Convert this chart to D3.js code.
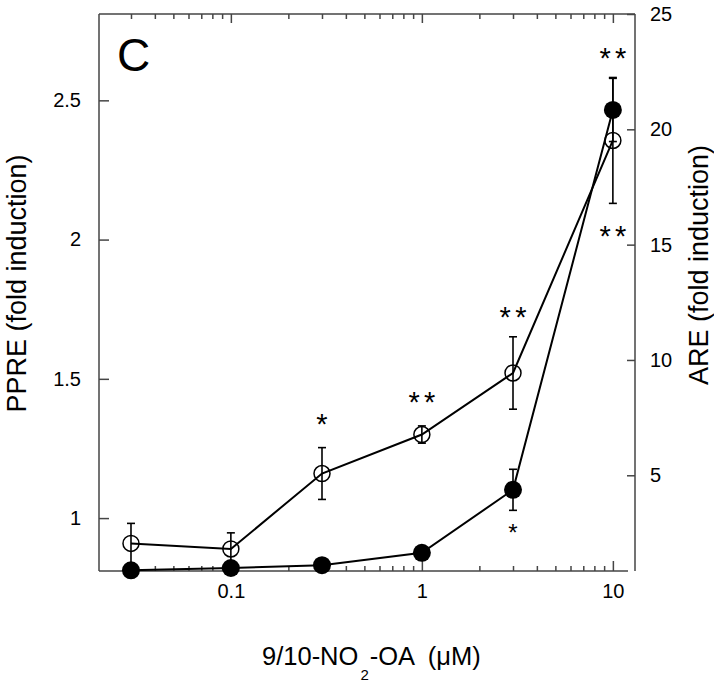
<!DOCTYPE html>
<html><head><meta charset="utf-8">
<script src="https://cdn.jsdelivr.net/npm/d3@7"></script>
<style>
body{margin:0;background:#fff;}
text{font-family:"Liberation Sans",Arial,Helvetica,sans-serif;fill:#000;}
</style></head>
<body>
<svg id="chart" width="714" height="684"></svg>
<script>
// ---- data ----
const concentrations = [0.03, 0.1, 0.3, 1, 3, 10];          // µM
const ppreValues = [0.909, 0.889, 1.160, 1.300, 1.521, 2.356]; // open circles, left axis
const ppreErrors = [0.072, 0.058, 0.093, 0.031, 0.130, 0.226];
const areValues  = [0.88, 0.98, 1.10, 1.64, 4.37, 20.84];      // filled circles, right axis
const areErrors  = [0, 0, 0, 0, 0.89, 1.37];
const leftTicks  = [1, 1.5, 2, 2.5];
const leftTickLabels = ["1", "1.5", "2", "2.5"];
const rightTicks = [5, 10, 15, 20, 25];
const xMajorTicks = [0.1, 1, 10];
const xMajorLabels = ["0.1", "1", "10"];
const xMinorTicks = [0.03,0.04,0.05,0.06,0.07,0.08,0.09,0.2,0.3,0.4,0.5,0.6,0.7,0.8,0.9,2,3,4,5,6,7,8,9];
// significance marks: x (µM), y (left-axis units), number of stars, small?
const starX = [0.3, 1, 3, 10, 10, 3];
const starY = [1.364, 1.440, 1.745, 2.678, 2.039, 0.969];
const starCount = [1, 2, 2, 2, 2, 1];
const starSmall = [false, false, false, false, false, true];

// ---- layout ----
const svg = d3.select("#chart");
const L = 99, R = 635, Rx = 628, T = 14, B = 571;
const axisColor = "#454545";

const x = d3.scaleLog().domain([0.0204, 12]).range([L, Rx]);
const yL = d3.scaleLinear().domain([0.81, 2.81]).range([B, T]);
const yR = d3.scaleLinear().domain([0.85, 25]).range([B, T]);

function styleAxis(g){
  g.select(".domain").remove();
  g.selectAll(".tick line").attr("stroke", axisColor).attr("stroke-width", 1.5);
  g.selectAll(".tick text").attr("font-size", 20).attr("fill", "#000")
    .attr("font-family", '"Liberation Sans",Arial,sans-serif');
}

// bottom axis
svg.append("g").attr("transform", `translate(0,${B})`)
  .call(d3.axisBottom(x).tickValues(xMinorTicks).tickSizeInner(-5).tickSizeOuter(0).tickFormat(""))
  .call(styleAxis);
svg.append("g").attr("transform", `translate(0,${B})`)
  .call(d3.axisBottom(x).tickValues(xMajorTicks).tickSizeInner(-10).tickSizeOuter(0).tickPadding(13)
    .tickFormat((d,i)=>xMajorLabels[i]))
  .call(styleAxis);
// top axis
svg.append("g").attr("transform", `translate(0,${T})`)
  .call(d3.axisTop(x).tickValues(xMinorTicks).tickSizeInner(-5).tickSizeOuter(0).tickFormat(""))
  .call(styleAxis);
svg.append("g").attr("transform", `translate(0,${T})`)
  .call(d3.axisTop(x).tickValues(xMajorTicks).tickSizeInner(-9).tickSizeOuter(0).tickFormat(""))
  .call(styleAxis);
// left axis
svg.append("g").attr("transform", `translate(${L},0)`)
  .call(d3.axisLeft(yL).tickValues(leftTicks).tickSizeInner(-10).tickSizeOuter(0).tickPadding(18)
    .tickFormat((d,i)=>leftTickLabels[i]))
  .call(styleAxis);
// right axis
svg.append("g").attr("transform", `translate(${R},0)`)
  .call(d3.axisRight(yR).tickValues(rightTicks).tickSizeInner(-8).tickSizeOuter(0).tickPadding(15)
    .tickFormat(d3.format("d")))
  .call(styleAxis);

// frame
const frame = svg.append("g").attr("stroke", axisColor).attr("stroke-width", 1.5).attr("fill","none");
frame.append("line").attr("x1", L).attr("x2", R).attr("y1", T).attr("y2", T);
frame.append("line").attr("x1", L).attr("x2", Rx).attr("y1", B).attr("y2", B);
frame.append("line").attr("x1", L).attr("x2", L).attr("y1", T).attr("y2", B);
frame.append("line").attr("x1", R).attr("x2", R).attr("y1", T).attr("y2", B);

// ---- series ----
const ppre = concentrations.map((c,i)=>({x:c, y:ppreValues[i], e:ppreErrors[i]}));
const are  = concentrations.map((c,i)=>({x:c, y:areValues[i], e:areErrors[i]}));

function errorBars(data, ys){
  const g = svg.append("g").attr("stroke","#000").attr("stroke-width",1.6);
  data.filter(d=>d.e>0).forEach(d=>{
    const cx = x(d.x), y1 = ys(d.y + d.e), y2 = ys(d.y - d.e);
    g.append("line").attr("x1",cx).attr("x2",cx).attr("y1",y1).attr("y2",y2);
    g.append("line").attr("x1",cx-4).attr("x2",cx+4).attr("y1",y1).attr("y2",y1);
    g.append("line").attr("x1",cx-4).attr("x2",cx+4).attr("y1",y2).attr("y2",y2);
  });
}
errorBars(ppre, yL);
errorBars(are, yR);

const lineL = d3.line().x(d=>x(d.x)).y(d=>yL(d.y));
const lineR = d3.line().x(d=>x(d.x)).y(d=>yR(d.y));
svg.append("path").datum(ppre).attr("d", lineL).attr("fill","none").attr("stroke","#000").attr("stroke-width",2);
svg.append("path").datum(are).attr("d", lineR).attr("fill","none").attr("stroke","#000").attr("stroke-width",2);

svg.append("g").selectAll("circle").data(ppre).join("circle")
  .attr("cx", d=>x(d.x)).attr("cy", d=>yL(d.y)).attr("r", 8)
  .attr("fill","none").attr("stroke","#000").attr("stroke-width",1.5);
svg.append("g").selectAll("circle").data(are).join("circle")
  .attr("cx", d=>x(d.x)).attr("cy", d=>yR(d.y)).attr("r", 9)
  .attr("fill","#000");

// significance stars
starX.forEach((sx,i)=>{
  const fs = starSmall[i] ? 24 : 29;
  const n = starCount[i];
  const gap = 15.6;
  for (let k = 0; k < n; k++){
    const off = (k - (n-1)/2) * gap;
    svg.append("text").attr("x", x(sx) + off).attr("y", yL(starY[i]) + 0.58*fs)
      .attr("text-anchor","middle").attr("font-size", fs).text("*");
  }
});

// ---- labels ----
svg.append("text").attr("x", 117).attr("y", 71).attr("font-size", 46).text("C");

svg.append("text").attr("transform","translate(25.5,283.5) rotate(-90)")
  .attr("text-anchor","middle").attr("font-size",27).text("PPRE (fold induction)");
svg.append("text").attr("transform","translate(708,265) rotate(-90)")
  .attr("text-anchor","middle").attr("font-size",27).text("ARE (fold induction)");

const xl = svg.append("text").attr("x", 262).attr("y", 665).attr("font-size", 25.5);
xl.append("tspan").text("9/10-NO");
xl.append("tspan").attr("font-size", 15).attr("dy", 15).attr("dx", 2).text("2");
xl.append("tspan").attr("dy", -15).attr("dx", 1).text("-OA  (\u03BCM)").attr("xml:space","preserve").style("white-space","pre");
</script>
</body></html>
